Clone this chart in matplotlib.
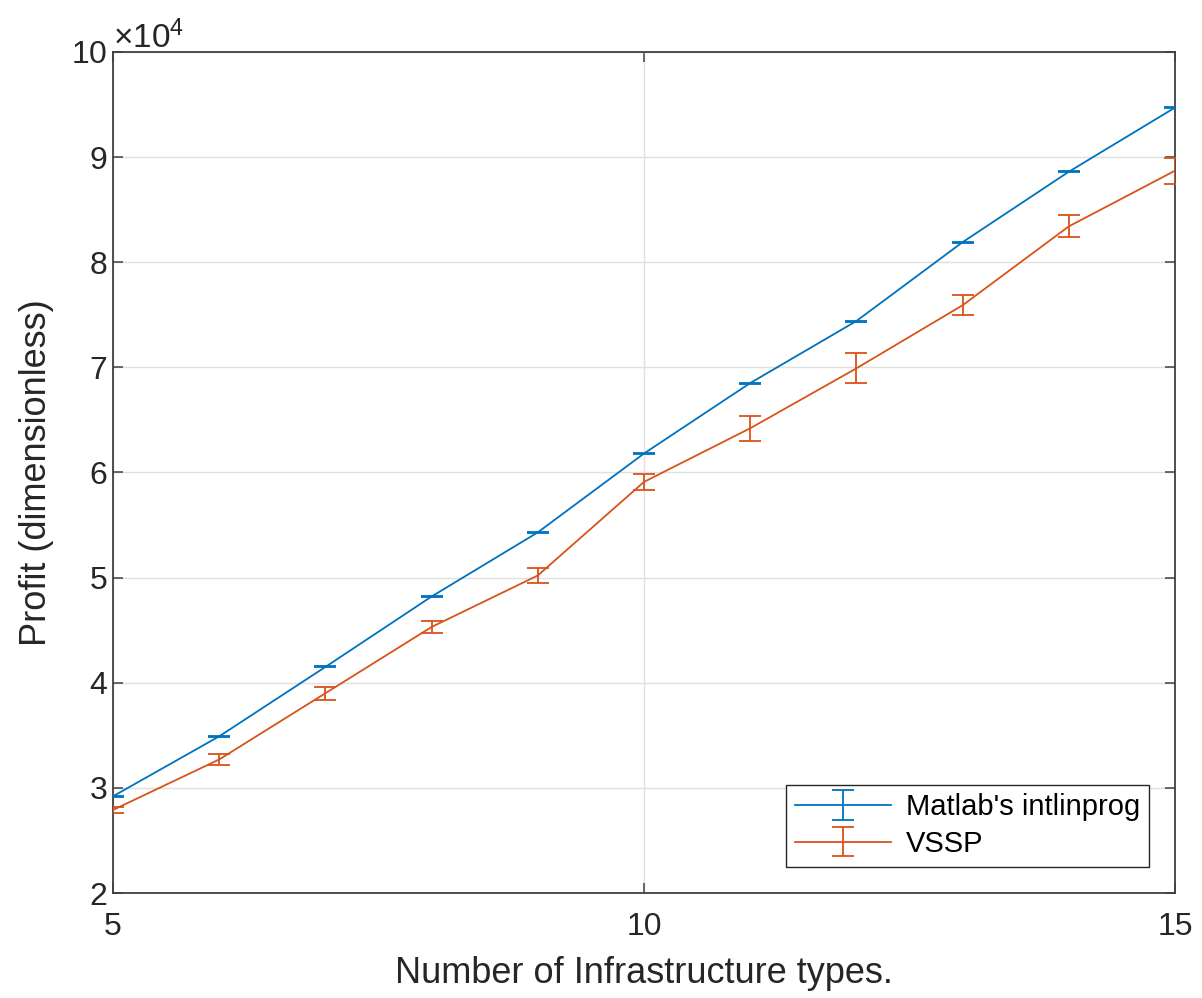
import numpy as np
import matplotlib
matplotlib.use('Agg')
import matplotlib.pyplot as plt
from matplotlib.ticker import ScalarFormatter

plt.rcParams['font.family'] = ['Liberation Sans', 'DejaVu Sans']
plt.rcParams['mathtext.fontset'] = 'custom'
plt.rcParams['mathtext.rm'] = 'Liberation Sans'

# data
n_types = [5, 6, 7, 8, 9, 10, 11, 12, 13, 14, 15]
intlinprog_profit = [29200, 34900, 41500, 48200, 54300, 61800, 68500, 74400, 81900, 88600, 94700]
intlinprog_err = [50, 50, 50, 50, 50, 50, 50, 50, 50, 50, 50]
vssp_profit = [27900, 32700, 39000, 45300, 50200, 59100, 64200, 69900, 75900, 83400, 88700]
vssp_err = [300, 500, 600, 570, 670, 760, 1190, 1430, 950, 1050, 1250]

BLUE = '#0072BD'
ORANGE = '#D95319'
AX_COLOR = '#262626'

fig = plt.figure(figsize=(12.02, 9.98), dpi=100)
ax = fig.add_axes([0.094, 0.1052, 0.8835, 0.8428])

ax.errorbar(n_types, intlinprog_profit, yerr=intlinprog_err, color=BLUE, lw=1.3,
            capsize=8, capthick=1.3, elinewidth=1.3, label="Matlab's intlinprog", zorder=3)
ax.errorbar(n_types, vssp_profit, yerr=vssp_err, color=ORANGE, lw=1.3,
            capsize=8, capthick=1.3, elinewidth=1.3, label='VSSP', zorder=3)

ax.set_xlim(5, 15)
ax.set_ylim(20000, 100000)
ax.set_xticks([5, 10, 15])
ax.set_yticks(np.arange(20000, 100001, 10000))

# fixed x10^4 multiplier like the original
fmt = ScalarFormatter(useMathText=True)
fmt.set_powerlimits((4, 4))
ax.yaxis.set_major_formatter(fmt)
ax.yaxis.get_offset_text().set_fontsize(24)
ax.yaxis.get_offset_text().set_color(AX_COLOR)

ax.grid(True, color='#e0e0e0', lw=1.0, zorder=0)
ax.set_axisbelow(True)
for sp in ax.spines.values():
    sp.set_color('#404040')
    sp.set_linewidth(1.3)
ax.tick_params(direction='in', length=7, width=1.1, top=True, right=True,
               labelsize=23, colors='#404040', labelcolor=AX_COLOR)
ax.tick_params(axis='x', pad=14)
ax.tick_params(axis='y', pad=4)

ax.set_xlabel('Number of Infrastructure types.', fontsize=26, color=AX_COLOR, labelpad=10)
ax.set_ylabel('Profit (dimensionless)', fontsize=26, color=AX_COLOR, labelpad=12)

leg = ax.legend(loc='lower right', fontsize=21, frameon=True, fancybox=False,
                edgecolor='#262626', framealpha=1, borderpad=0.3, handlelength=3.3,
                borderaxespad=0.9, labelspacing=0.3, handletextpad=0.5)
leg.get_frame().set_linewidth(1.0)

fig.savefig('out.png', dpi=100)
